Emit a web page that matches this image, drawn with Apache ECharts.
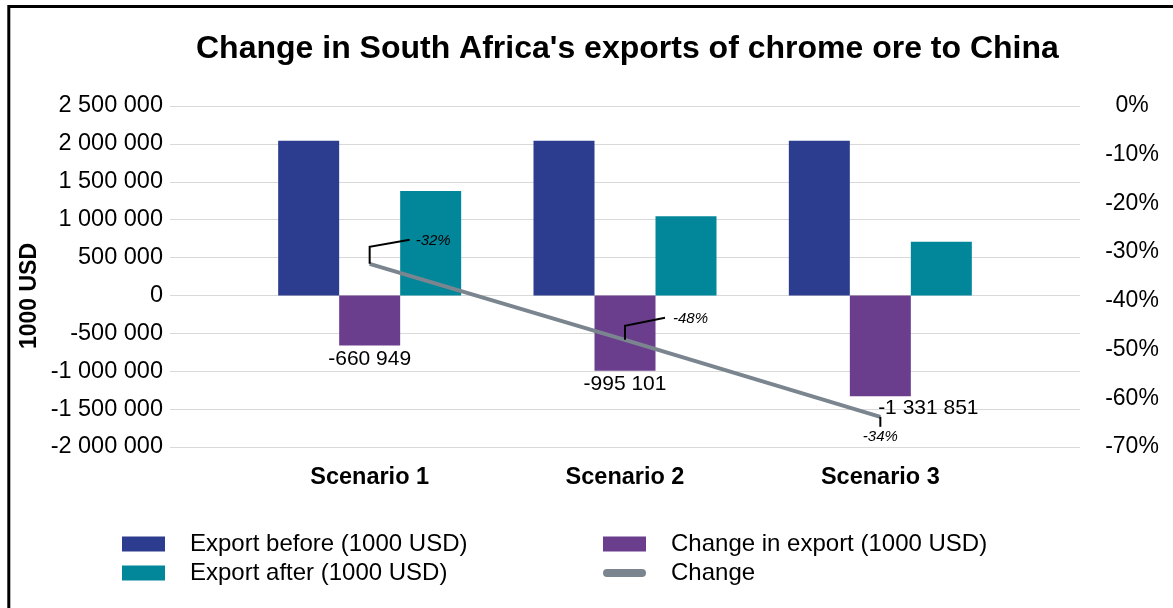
<!DOCTYPE html>
<html><head><meta charset="utf-8">
<script src="https://cdn.jsdelivr.net/npm/echarts@6/dist/echarts.min.js"></script>
<style>html,body{margin:0;padding:0;background:#fff}#c{width:1173px;height:608px}</style>
</head><body><div id="c"></div>
<script>
const categories = ['Scenario 1', 'Scenario 2', 'Scenario 3'];
const exportBefore = [2040000, 2040000, 2040000];
const changeInExport = [-660949, -995101, -1331851];
const exportAfter = [1379051, 1044899, 708149];
const changePct = [-32.4, -48.0, -63.8];
const changePctLabels = ['-32%', '-48%', '-34%'];
const leftMin = -2000000, leftMax = 2500000, leftStep = 500000;
const rightMin = -70, rightMax = 0, rightStep = 10;

const FONT = 'Liberation Sans';
function fmt(v) {
  const s = Math.abs(Math.round(v)).toString().replace(/\B(?=(\d{3})+(?!\d))/g, ' ');
  return (v < 0 ? '-' : '') + s;
}
// callout leader geometry (pixel offsets relative to the data point): elbow, end, text anchor
const calloutGeom = [
  { elbow: [0, -17], end: [40, -24], text: [46, -23], align: 'left' },
  { elbow: [0, -14], end: [40, -22], text: [48, -21], align: 'left' },
  { elbow: [0, 10], end: [0, 10], text: [0, 20], align: 'center' }
];

const chart = echarts.init(document.getElementById('c'));
chart.setOption({
  animation: false,
  backgroundColor: '#fff',
  title: {
    text: "Change in South Africa's exports of chrome ore to China",
    left: 191, top: 28,
    textStyle: { fontFamily: FONT, fontSize: 32, fontWeight: 'bold', color: '#000' }
  },
  graphic: [
    { type: 'line', shape: { x1: 8, y1: 6.5, x2: 1173, y2: 6.5 }, style: { stroke: '#000', lineWidth: 3 } },
    { type: 'line', shape: { x1: 8.8, y1: 5, x2: 8.8, y2: 608 }, style: { stroke: '#000', lineWidth: 3 } },
    { type: 'text', x: 30, y: 296, rotation: Math.PI / 2,
      style: { text: '1000 USD', fontFamily: FONT, fontSize: 23, fontWeight: 'bold', fill: '#000', align: 'center', verticalAlign: 'middle' } }
  ],
  legend: [
    { data: [{ name: 'Export before (1000 USD)', icon: 'rect' }, { name: 'Export after (1000 USD)', icon: 'rect' }],
      orient: 'vertical', left: 122, top: 532, padding: 0,
      itemWidth: 43, itemHeight: 15, itemGap: 5,
      textStyle: { fontFamily: FONT, fontSize: 24, color: '#000', padding: [0, 0, 0, 20] } },
    { data: [{ name: 'Change in export (1000 USD)', icon: 'rect' }, { name: 'Change', icon: 'path://M4,0 H39 A4,4 0 0 1 39,8 H4 A4,4 0 0 1 4,0 Z' }],
      orient: 'vertical', left: 603, top: 532, padding: 0,
      itemWidth: 43, itemHeight: 15, itemGap: 5,
      textStyle: { fontFamily: FONT, fontSize: 24, color: '#000', padding: [0, 0, 0, 20] } }
  ],
  grid: [
    { left: 170, right: 93, top: 106, bottom: 161 },
    { left: 242, right: 165, top: 106, bottom: 161 }
  ],
  xAxis: [
    { type: 'category', gridIndex: 0, data: categories, show: false },
    { type: 'category', gridIndex: 1, data: categories,
      axisLine: { show: false, onZero: false }, axisTick: { show: false },
      axisLabel: { fontFamily: FONT, fontSize: 23.5, fontWeight: 'bold', color: '#000', margin: 19 } }
  ],
  yAxis: [
    { type: 'value', gridIndex: 0, min: leftMin, max: leftMax, interval: leftStep,
      axisLine: { show: false }, axisTick: { show: false },
      axisLabel: { fontFamily: FONT, fontSize: 23.5, color: '#000', margin: 7, formatter: fmt },
      splitLine: { lineStyle: { color: '#d9d9d9', width: 1 } } },
    { type: 'value', gridIndex: 0, position: 'right', min: rightMin, max: rightMax, interval: rightStep,
      axisLine: { show: false }, axisTick: { show: false },
      axisLabel: { fontFamily: FONT, fontSize: 23, color: '#000', margin: 52, align: 'center', formatter: '{value}%' },
      splitLine: { show: false } },
    { type: 'value', gridIndex: 1, min: leftMin, max: leftMax, interval: leftStep, show: false, splitLine: { show: false } },
    { type: 'value', gridIndex: 1, min: rightMin, max: rightMax, interval: rightStep, show: false, splitLine: { show: false } }
  ],
  series: [
    { name: 'Export before (1000 USD)', type: 'bar', xAxisIndex: 1, yAxisIndex: 2,
      data: exportBefore, barWidth: 61, barGap: '0%', itemStyle: { color: '#2C3D90' } },
    { name: 'Change in export (1000 USD)', type: 'bar', xAxisIndex: 1, yAxisIndex: 2,
      data: changeInExport.map((v, i) => i === 2 ? { value: v, label: { offset: [48, -2] } } : v),
      barWidth: 61, barGap: '0%', itemStyle: { color: '#6A3E8D' },
      label: { show: true, position: 'bottom', distance: 3, fontFamily: FONT, fontSize: 21, color: '#000',
        formatter: p => fmt(p.value) } },
    { name: 'Export after (1000 USD)', type: 'bar', xAxisIndex: 1, yAxisIndex: 2,
      data: exportAfter, barWidth: 61, barGap: '0%', itemStyle: { color: '#02879A' } },
    { name: 'Change', type: 'line', xAxisIndex: 1, yAxisIndex: 3, data: changePct,
      symbol: 'none', lineStyle: { color: '#7B858F', width: 4 }, itemStyle: { color: '#7B858F' }, z: 5 },
    { name: 'Change callouts', type: 'custom', xAxisIndex: 1, yAxisIndex: 3,
      data: changePct.map((v, i) => [i, v]), z: 6, silent: true,
      renderItem: (params, api) => {
        const i = params.dataIndex;
        const p = api.coord([api.value(0), api.value(1)]);
        const g = calloutGeom[i];
        return {
          type: 'group',
          children: [
            { type: 'polyline', shape: { points: [p, [p[0] + g.elbow[0], p[1] + g.elbow[1]], [p[0] + g.end[0], p[1] + g.end[1]]] },
              style: { stroke: '#000', lineWidth: 2, fill: null } },
            { type: 'text', x: p[0] + g.text[0], y: p[1] + g.text[1],
              style: { text: changePctLabels[i], fontFamily: FONT, fontSize: 15, fontStyle: 'italic', fill: '#000',
                align: g.align, verticalAlign: 'middle' } }
          ]
        };
      } }
  ]
});
</script></body></html>
